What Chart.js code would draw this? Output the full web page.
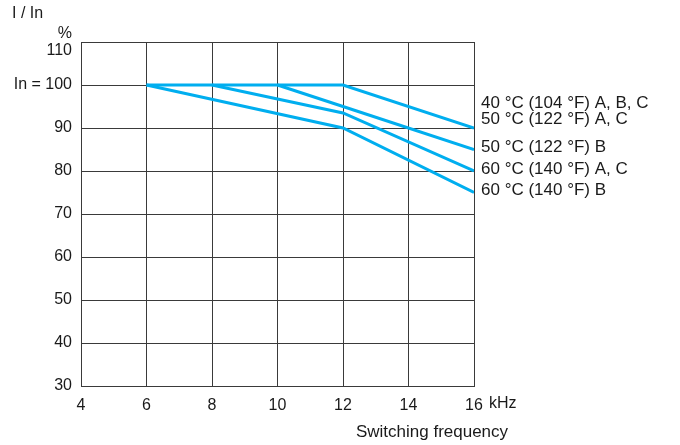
<!DOCTYPE html>
<html>
<head>
<meta charset="utf-8">
<script src="https://cdn.jsdelivr.net/npm/chart.js@4/dist/chart.umd.min.js"></script>
<style>
  html, body { margin: 0; padding: 0; background: #fff; }
  #wrap { width: 680px; height: 445px; }
</style>
</head>
<body>
<div id="wrap"><canvas id="chart" width="680" height="445"></canvas></div>
<script>
  /* ---------- data ---------- */
  const freqTicks = [4, 6, 8, 10, 12, 14, 16];          // kHz
  const currentTicks = [30, 40, 50, 60, 70, 80, 90, 100, 110]; // % of In

  const freq40 = [6, 12, 16];
  const cur40 = [100, 100, 90];
  const freq50B = [10, 12, 16];
  const cur50B = [100, 95, 85];
  const freq60AC = [8, 12, 16];
  const cur60AC = [100, 93.5, 80];
  const freq60B = [6, 12, 16];
  const cur60B = [100, 90, 75];

  const seriesLabels = [
    ["40 °C (104 °F) A, B, C", "50 °C (122 °F) A, C"],
    ["50 °C (122 °F) B"],
    ["60 °C (140 °F) A, C"],
    ["60 °C (140 °F) B"],
  ];

  /* ---------- styling ---------- */
  const LINE = "#00aeef";
  const GRID = "#3a3a3a";
  const TEXT = "#1a1a1a";
  const FONT = "'Liberation Sans', Arial, sans-serif";

  function pts(xs, ys) {
    return xs.map((x, i) => ({ x: x, y: ys[i] }));
  }

  function series(xs, ys) {
    return {
      data: pts(xs, ys),
      borderColor: LINE,
      borderWidth: 3,
      pointRadius: 0,
      fill: false,
      tension: 0,
    };
  }

  // free text: axis title, unit and the curve labels at the right
  const annotations = {
    id: "annotations",
    afterDraw(chart) {
      const { ctx, scales } = chart;
      ctx.save();
      ctx.fillStyle = TEXT;
      ctx.textBaseline = "middle";

      ctx.font = "16px " + FONT;
      ctx.textAlign = "left";
      ctx.fillText("I / In", 12, 14);

      // unit after the last x tick
      ctx.fillText("kHz", scales.x.getPixelForValue(16) + 15, 404);

      ctx.font = "17px " + FONT;
      ctx.textAlign = "center";
      ctx.fillText("Switching frequency", 432, 432);

      // labels at the end of each curve
      ctx.textAlign = "left";
      chart.data.datasets.forEach((ds, i) => {
        const last = ds.data[ds.data.length - 1];
        const px = scales.x.getPixelForValue(last.x) + 7;
        const py = scales.y.getPixelForValue(last.y);
        const lines = seriesLabels[i];
        if (lines.length > 1) {
          ctx.fillText(lines[0], px, py - 25);
          ctx.fillText(lines[1], px, py - 9);
        } else {
          ctx.fillText(lines[0], px, py - 2);
        }
      });
      ctx.restore();
    },
  };

  new Chart(document.getElementById("chart"), {
    type: "line",
    data: {
      datasets: [
        series(freq40, cur40),
        series(freq50B, cur50B),
        series(freq60AC, cur60AC),
        series(freq60B, cur60B),
      ],
    },
    options: {
      responsive: false,
      animation: false,
      layout: { padding: { left: 0, right: 206, top: 42, bottom: 0 } },
      plugins: { legend: { display: false }, tooltip: { enabled: false } },
      scales: {
        x: {
          type: "linear",
          min: 4,
          max: 16,
          afterBuildTicks(scale) {
            scale.ticks = freqTicks.map((v) => ({ value: v }));
          },
          afterFit(scale) {
            scale.height = 59;
          },
          grid: { color: GRID, lineWidth: 1, drawTicks: false },
          border: { color: GRID },
          ticks: {
            color: TEXT,
            padding: 10,
            font: { family: FONT, size: 16 },
            maxRotation: 0,
          },
        },
        y: {
          min: 30,
          max: 110,
          afterBuildTicks(scale) {
            scale.ticks = currentTicks.map((v) => ({ value: v }));
          },
          afterFit(scale) {
            scale.width = 81;
          },
          grid: { color: GRID, lineWidth: 1, drawTicks: false },
          border: { color: GRID },
          ticks: {
            color: TEXT,
            padding: 9,
            font: { family: FONT, size: 16, lineHeight: 1.05 },
            callback: (v) => {
              if (v === 110) return ["%", "110"];
              if (v === 100) return "In = 100";
              return v;
            },
          },
        },
      },
    },
    plugins: [annotations],
  });
</script>
</body>
</html>
